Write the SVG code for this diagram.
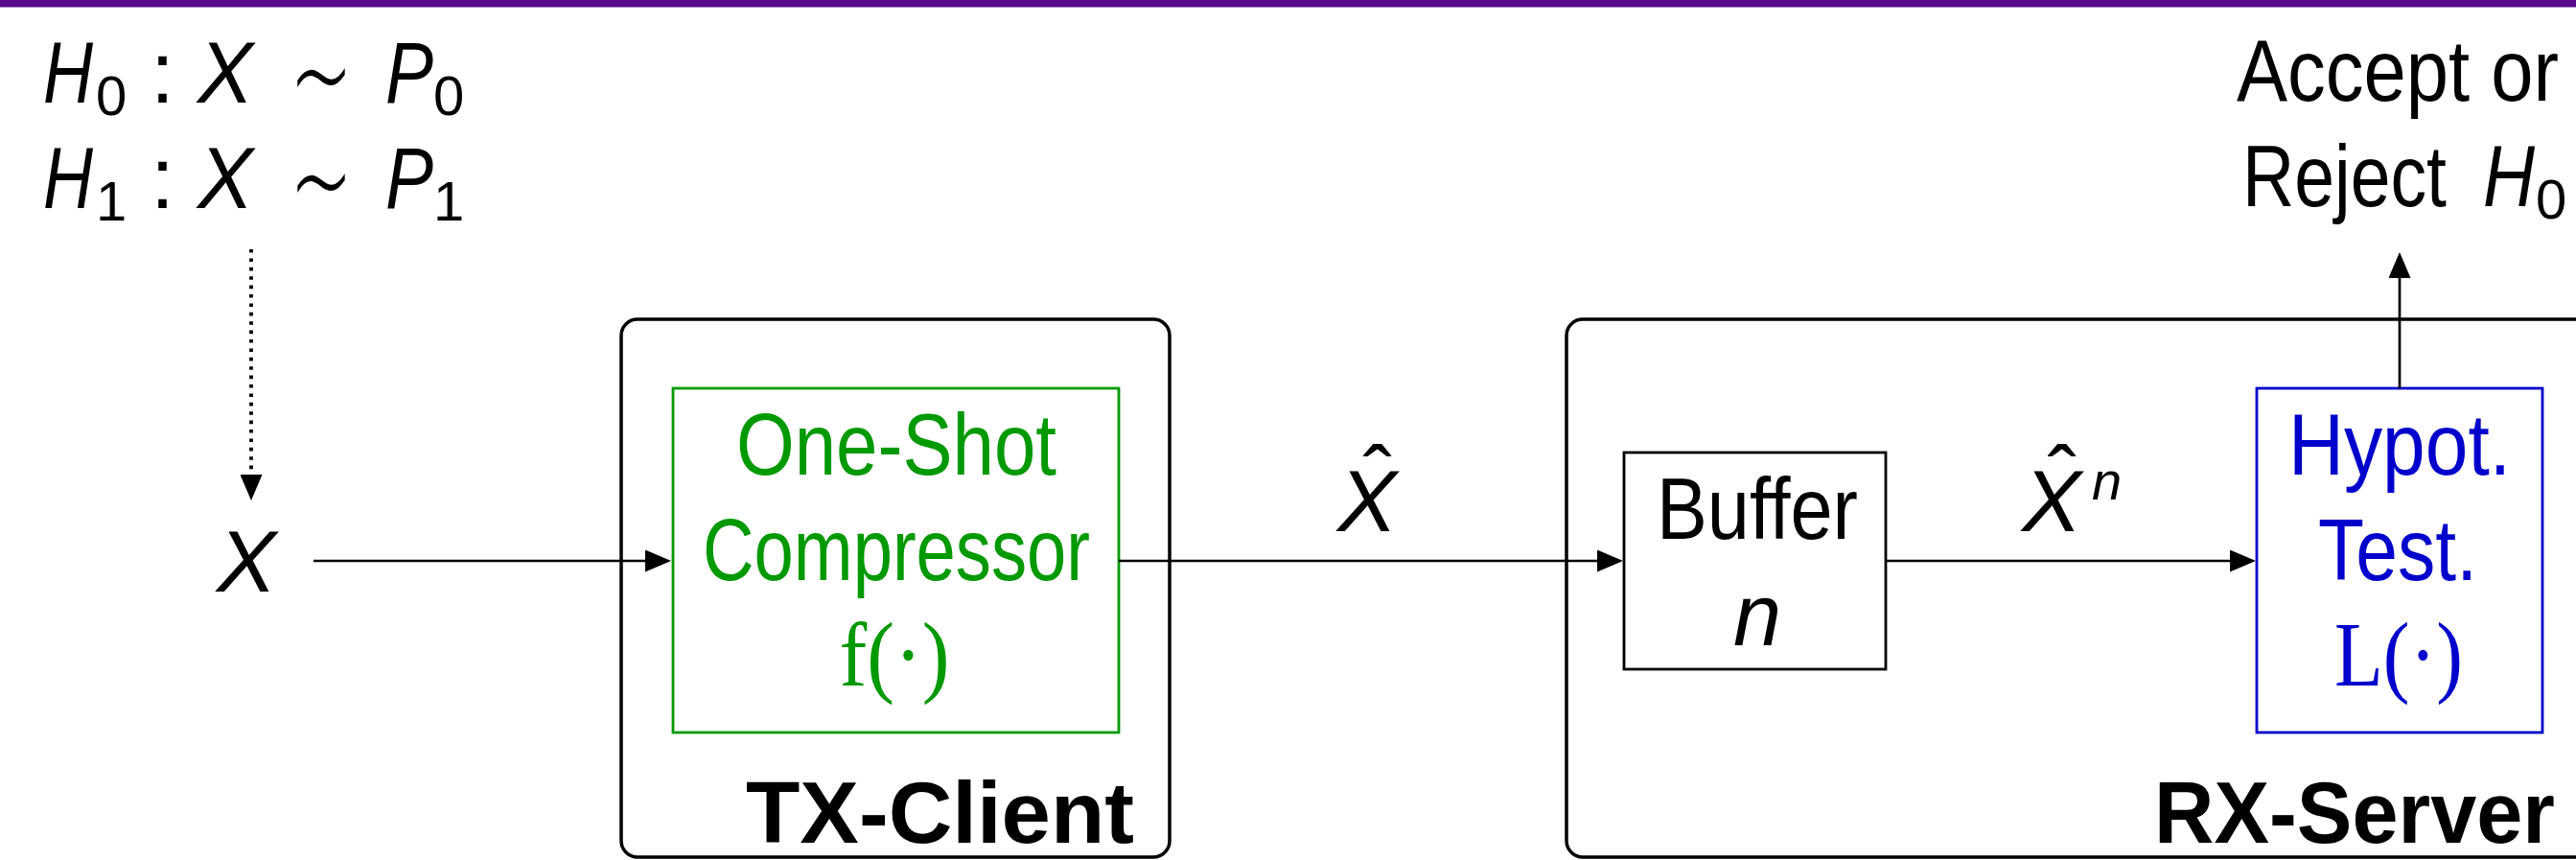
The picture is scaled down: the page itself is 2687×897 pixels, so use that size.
<svg xmlns="http://www.w3.org/2000/svg" width="2687" height="897" viewBox="0 0 2687 897">
<defs>
<style>
.t{font-family:"Liberation Sans",Arial,sans-serif;font-size:90px;fill:#000}
.i{font-style:italic}
.b{font-weight:bold}
.sub{font-family:"Liberation Sans",Arial,sans-serif;font-size:58px;fill:#000}
.sup{font-family:"Liberation Sans",Arial,sans-serif;font-size:56px;font-style:italic;fill:#000}
.tilde{font-family:"DejaVu Sans",sans-serif;font-weight:200;font-size:105px;fill:#000}
.m{font-family:"Liberation Serif","Times New Roman",serif;font-size:95px}
.c{text-anchor:middle}
.outer{fill:none;stroke:#000;stroke-width:3.5}
.inner{fill:none;stroke-width:2.8}
.wire{fill:none;stroke:#000;stroke-width:2.7}
.dots{stroke-width:3.8;stroke-dasharray:3.6 5.8}
.green{fill:#009900}
.blue{fill:#0000cc}
</style>
<marker id="ah" markerUnits="userSpaceOnUse" markerWidth="27" markerHeight="23" refX="21" refY="11.5" orient="auto">
<path d="M0,0 L27,11.5 L0,23 Z" fill="#000"/>
</marker>
</defs>
<rect width="2687" height="897" fill="#fff"/>
<rect x="0" y="0" width="2687" height="7.5" fill="#5a0a8c"/>

<g id="hypotheses">
<text class="t i" x="45" y="107" textLength="52" lengthAdjust="spacingAndGlyphs">H</text>
<text class="sub" x="100" y="120">0</text>
<text class="t" x="157" y="107">:</text>
<text class="t i" x="206" y="107" textLength="58" lengthAdjust="spacingAndGlyphs">X</text>
<text class="tilde" transform="translate(302,83) scale(1,1.45)" x="0" y="35" textLength="66" lengthAdjust="spacingAndGlyphs">∼</text>
<text class="t i" x="402" y="107" textLength="50" lengthAdjust="spacingAndGlyphs">P</text>
<text class="sub" x="452" y="120">0</text>
<text class="t i" x="45" y="217" textLength="52" lengthAdjust="spacingAndGlyphs">H</text>
<text class="sub" x="100" y="230">1</text>
<text class="t" x="157" y="217">:</text>
<text class="t i" x="206" y="217" textLength="58" lengthAdjust="spacingAndGlyphs">X</text>
<text class="tilde" transform="translate(302,193) scale(1,1.45)" x="0" y="35" textLength="66" lengthAdjust="spacingAndGlyphs">∼</text>
<text class="t i" x="402" y="217" textLength="50" lengthAdjust="spacingAndGlyphs">P</text>
<text class="sub" x="452" y="230">1</text>
</g>

<g id="input-x">
<text class="t i" x="226" y="617" textLength="62" lengthAdjust="spacingAndGlyphs">X</text>
</g>

<g id="tx-client">
<rect class="outer" x="648" y="333" width="572" height="561" rx="17"/>
<text class="t b" x="778" y="879" textLength="405" lengthAdjust="spacingAndGlyphs">TX-Client</text>
</g>

<g id="compressor">
<rect class="inner" x="702" y="405" width="465" height="359" stroke="#009900"/>
<text class="t green c" x="935" y="495" textLength="334" lengthAdjust="spacingAndGlyphs">One-Shot</text>
<text class="t green c" x="935" y="605" textLength="404" lengthAdjust="spacingAndGlyphs">Compressor</text>
<text class="m green c" x="933" y="715" textLength="115" lengthAdjust="spacingAndGlyphs">f(·)</text>
</g>

<g id="rx-server">
<rect class="outer" x="1634" y="333" width="1068" height="561" rx="17"/>
<text class="t b" x="2247" y="879" textLength="418" lengthAdjust="spacingAndGlyphs">RX-Server</text>
</g>

<g id="buffer">
<rect class="inner" x="1694" y="472" width="273" height="226" stroke="#000"/>
<text class="t c" x="1833" y="562" textLength="210" lengthAdjust="spacingAndGlyphs">Buffer</text>
<text class="t i c" x="1833" y="673">n</text>
</g>

<g id="hypot-test">
<rect class="inner" x="2354" y="405" width="298" height="359" stroke="#0000cc"/>
<text class="t blue c" x="2503" y="495" textLength="232" lengthAdjust="spacingAndGlyphs">Hypot.</text>
<text class="t blue c" x="2501" y="605" textLength="166" lengthAdjust="spacingAndGlyphs">Test.</text>
<text class="m blue c" x="2502" y="715" textLength="134" lengthAdjust="spacingAndGlyphs">L(·)</text>
</g>

<g id="decision">
<text class="t" x="2333" y="105" textLength="336" lengthAdjust="spacingAndGlyphs">Accept or</text>
<text class="t" x="2339" y="215" textLength="213" lengthAdjust="spacingAndGlyphs">Reject</text>
<text class="t i" x="2590" y="215" textLength="54" lengthAdjust="spacingAndGlyphs">H</text>
<text class="sub" x="2645" y="228">0</text>
</g>

<g id="connectors">
<path class="wire dots" d="M262,260 V516" marker-end="url(#ah)"/>
<path class="wire" d="M327,585 H694" marker-end="url(#ah)"/>
<path class="wire" d="M1167,585 H1687" marker-end="url(#ah)"/>
<path class="wire" d="M1967,585 H2347" marker-end="url(#ah)"/>
<path class="wire" d="M2503,405 V269" marker-end="url(#ah)"/>
</g>

<g id="edge-labels">
<text class="t i" x="1395" y="554" textLength="62" lengthAdjust="spacingAndGlyphs">X</text>
<text class="t c" x="1437" y="529">ˆ</text>
<text class="t i" x="2109" y="554" textLength="62" lengthAdjust="spacingAndGlyphs">X</text>
<text class="t c" x="2151" y="529">ˆ</text>
<text class="sup" x="2182" y="521">n</text>
</g>
</svg>
